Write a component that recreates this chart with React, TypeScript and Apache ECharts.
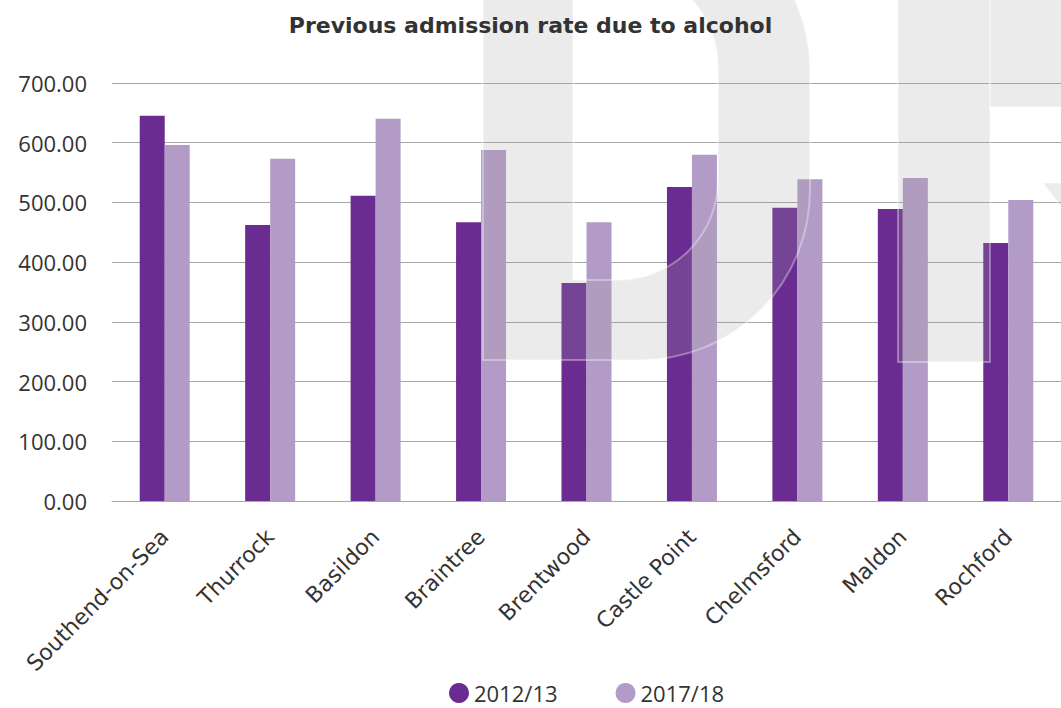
import React, { useEffect, useRef } from "react";
import * as echarts from "echarts";

const categories = [
  "Southend-on-Sea",
  "Thurrock",
  "Basildon",
  "Braintree",
  "Brentwood",
  "Castle Point",
  "Chelmsford",
  "Maldon",
  "Rochford",
];
const seriesNames = ["2012/13", "2017/18"];
const rate2012 = [645, 462, 511, 467, 365, 526, 491, 489, 432];
const rate2017 = [596, 573, 640, 588, 467, 580, 539, 541, 504];
const yTicks = { min: 0, max: 700, interval: 100 };

const D_PATH =
  "M483,-100 L640,-100 A170,170 0 0 1 810,70 L810,190 A170,170 0 0 1 640,360 L483,360 Z " +
  "M573,-33 L573,280 L618,280 A100,100 0 0 0 718,180 L718,67 A100,100 0 0 0 618,-33 Z";

let registered = false;
function registerShapes() {
  if (registered) return;
  registered = true;
  echarts.graphic.registerShape("wmD", echarts.graphic.extendPath(D_PATH, {}));
}

export default function App() {
  const ref = useRef<HTMLDivElement>(null);
  useEffect(() => {
    if (!ref.current) return;
    registerShapes();
    const chart = echarts.init(ref.current, null, { renderer: "svg" });
    const wmStyle = {
      fill: "rgba(160,160,160,0.21)",
      stroke: "rgba(255,255,255,0.35)",
      lineWidth: 2,
    };
    chart.setOption({
      animation: false,
      backgroundColor: "#ffffff",
      title: {
        text: "Previous admission rate due to alcohol",
        left: "center",
        top: 9,
        z: 100,
        textStyle: {
          fontFamily: "DejaVu Sans",
          fontSize: 22,
          fontWeight: "bold",
          color: "#333333",
        },
      },
      legend: {
        left: 444,
        top: 677,
        icon: "circle",
        itemWidth: 20,
        itemHeight: 20,
        itemGap: 58,
        textStyle: { fontFamily: "Open Sans", fontSize: 22, color: "#333333" },
        data: seriesNames,
      },
      grid: { left: 112, top: 83, width: 951, bottom: 207, containLabel: false },
      xAxis: {
        type: "category",
        data: categories,
        axisLine: { lineStyle: { color: "#a6a6a6", width: 1 } },
        axisTick: { show: false },
        axisLabel: {
          rotate: 45,
          interval: 0,
          margin: 32,
          fontFamily: "DejaVu Sans",
          fontSize: 22,
          color: "#333333",
        },
      },
      yAxis: {
        type: "value",
        min: yTicks.min,
        max: yTicks.max,
        interval: yTicks.interval,
        axisLine: { show: false },
        axisTick: { show: false },
        splitLine: { lineStyle: { color: "#a6a6a6", width: 1 } },
        axisLabel: {
          margin: 25,
          fontFamily: "Open Sans",
          fontSize: 22,
          color: "#333333",
          formatter: (v: number) => v.toFixed(2),
        },
      },
      series: [
        {
          name: seriesNames[0],
          type: "bar",
          data: rate2012,
          barWidth: 25,
          barGap: "0%",
          itemStyle: { color: "#6a2c91" },
        },
        {
          name: seriesNames[1],
          type: "bar",
          data: rate2017,
          barWidth: 25,
          barGap: "0%",
          itemStyle: { color: "#b39bc8" },
        },
      ],
      graphic: [
        { type: "wmD", x: 0, y: 0, z: 50, silent: true, style: wmStyle },
        {
          type: "rect",
          z: 50,
          silent: true,
          shape: { x: 898, y: -100, width: 92, height: 462 },
          style: wmStyle,
        },
        {
          type: "rect",
          z: 50,
          silent: true,
          shape: { x: 990, y: -100, width: 90, height: 207 },
          style: wmStyle,
        },
        {
          type: "polygon",
          z: 50,
          silent: true,
          shape: { points: [[1043, 183], [1070, 183], [1070, 218]] },
          style: wmStyle,
        },
      ],
    });
    return () => chart.dispose();
  }, []);
  return (
    <div
      ref={ref}
      style={{ position: "fixed", left: 0, top: 0, width: 1061, height: 708 }}
    />
  );
}
